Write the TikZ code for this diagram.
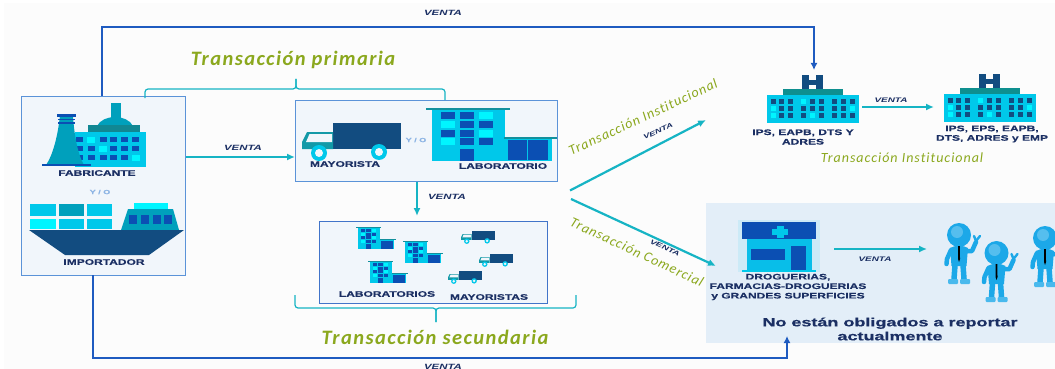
\documentclass[tikz,border=0pt]{standalone}
\usepackage{fontspec}
\setmainfont{Liberation Sans}
\newfontfamily\labfont[FakeStretch=1.5,BoldFeatures={FakeStretch=1.5,FakeBold=0.4}]{Liberation Sans}
\newfontfamily\grnfont[LetterSpace=7,Ligatures=CommonOff]{Carlito}
\usetikzlibrary{arrows.meta,calc}
\definecolor{navy}{HTML}{1B2F63}
\definecolor{teal1}{HTML}{16B4C4}
\definecolor{blu}{HTML}{1F5BC0}
\definecolor{boxb}{HTML}{5B93D8}
\definecolor{boxf}{HTML}{F1F6FB}
\definecolor{grn}{HTML}{8BA81E}
\definecolor{cy}{HTML}{00C8EA}
\definecolor{cyd}{HTML}{00A0BC}
\definecolor{cyl}{HTML}{00F5FF}
\definecolor{dkb}{HTML}{0B4FB3}
\definecolor{navf}{HTML}{124C80}
\definecolor{tealg}{HTML}{0E8F8F}
\definecolor{panel}{HTML}{E3EEF8}
\definecolor{pers}{HTML}{1CA8E8}
\tikzset{
 lab/.style={font=\labfont\bfseries\fontsize{8}{9.5}\selectfont,text=navy,align=center,inner sep=0pt},
 venta/.style={font=\labfont\bfseries\itshape\fontsize{7.6}{9}\selectfont,text=navy,inner sep=0pt},
 grnlab/.style={font=\grnfont\itshape\fontsize{14}{15}\selectfont,text=grn,inner sep=0pt},
 grnbig/.style={font=\grnfont\bfseries\itshape\fontsize{20.5}{23}\selectfont,text=grn,inner sep=0pt},
 yo/.style={font=\labfont\bfseries\fontsize{6}{8}\selectfont,text=boxb!70,inner sep=0pt},
 card/.style={draw=boxb,line width=1.3pt,fill=boxf,inner sep=0pt},
 tealarrow/.style={draw=teal1,line width=2pt,-{Latex[length=8pt,width=7pt]}},
 bluearrow/.style={draw=blu,line width=1.6pt,-{Latex[length=7pt,width=7pt]}},
 brace/.style={draw=teal1,line width=1.2pt,rounded corners=3pt},
 pics/truck/.style={code={
   \fill[navf] (31,0) rectangle (99,26);
   \fill[teal1!85!black] (0,19) -- (5,9) -- (31,9) -- (31,26) -- (0,26) -- cycle;
   \fill[boxf] (7.5,11) -- (30,11) -- (30,19) -- (4,19) -- cycle;
   \fill[cy] (17,30) circle (8); \fill[boxf] (17,30) circle (4);
   \fill[cy] (77,29) circle (8); \fill[boxf] (77,29) circle (4);
 }},
 pics/labo/.style={code={
   \fill[teal1!80!black] (-6,-2) rectangle (78,0);
   \fill[cy] (0,0) rectangle (73,51);
   \fill[cy] (73,29) rectangle (120,51);
   \fill[teal1!80!black] (72,27) rectangle (125,29);
   \fill[dkb] (76,30) rectangle (95,50);
   \fill[dkb] (96,30) rectangle (116,50);
   \foreach \xx/\yy/\cc in {9/2/dkb,28/2/dkb,47/2/cyl,9/11/cyl,28/11/dkb,47/11/dkb,9/20/dkb,28/20/dkb,47/20/cyl,9/28/cyl,28/28/dkb,47/28/dkb}{
     \fill[\cc] (\xx,\yy) rectangle ++(14,7);}
   \fill[dkb] (28,39) rectangle (42,51);
 }},
 pics/hosp/.style={code={
   \fill[navf] (35,0) rectangle (42,15);
   \fill[navf] (49,0) rectangle (56,15);
   \fill[navf] (40,5) rectangle (51,10);
   \fill[tealg] (16,14) rectangle (76,20);
   \fill[cy] (0,20) rectangle (92,48);
   \foreach \y in {24,31,38}{
     \foreach \x in {4,12,21,34,43,52,65,74,83}{
       \fill[navf] (\x,\y) rectangle ++(5,4.5);
     }}
   \fill[cyl] (34,24) rectangle ++(5,4.5);
   \fill[cyl] (4,31) rectangle ++(5,4.5);
   \fill[cyl] (83,31) rectangle ++(5,4.5);
   \fill[cyl] (4,38) rectangle ++(5,4.5);
   \fill[cyl] (43,38) rectangle ++(5,4.5);
 }},
 pics/person/.style={code={
   \fill[pers] (-9,13) .. controls (-4,10) and (4,10) .. (9,13) -- (7.5,31) -- (-7.5,31) -- cycle;
   \draw[pers,line width=4.5pt,line cap=round,line join=round] (-8,15) -- (-12,24) -- (-12.5,29);
   \draw[pers,line width=4.5pt,line cap=round,line join=round] (8,16) -- (13,16) -- (17,7);
   \draw[pers,line width=2.4pt,line cap=round] (17,6) -- (15,1);
   \draw[pers,line width=2.4pt,line cap=round] (17,6) -- (21,1);
   \draw[pers,line width=5.5pt,line cap=round] (-4,30) -- (-5,44);
   \draw[pers,line width=5.5pt,line cap=round] (4,30) -- (5,44);
   \fill[pers!80!white,rounded corners=1pt] (-11,44) rectangle (-1,49);
   \fill[pers!80!white,rounded corners=1pt] (1,44) rectangle (11,49);
   \fill[pers] (0,0) circle (12);
   \fill[pers!75!white] (-2,-3) circle (6);
   \fill[black] (-0.9,11) -- (0.9,11) -- (1,24) -- (0,27) -- (-1,24) -- cycle;
 }},
}
\begin{document}
\begin{tikzpicture}[x=1pt,y=-1pt]
\useasboundingbox (0,0) rectangle (1055,369);
\fill[white] (0,0) rectangle (1055,369);
\fill[black!1] (4,3) rectangle (1055,369);
% panel
\node[fill=panel,minimum width=349pt,minimum height=140pt,inner sep=0pt,anchor=north west] (panel) at (706,203) {};
% cards
\node[card,minimum width=164pt,minimum height=179pt,anchor=north west] (fab) at (21,96) {};
\node[card,minimum width=262pt,minimum height=81pt,anchor=north west] (may) at (295,100) {};
\node[card,draw=blu!85,minimum width=228pt,minimum height=82pt,anchor=north west] (sec) at (319,221) {};

% factory icon
\fill[cyd] (111,103) rectangle (121,120);
\fill[cyd] (97,126) .. controls (103,114) and (127,114) .. (133,126) -- cycle;
\fill[cy] (75,132) rectangle (146,167);
\fill[teal1!75!black] (88,125) rectangle (140,132);
\foreach \y in {137,146,155}{\foreach \x in {76,88,100,110,121,132}{\fill[dkb] (\x,\y) rectangle ++(7,5);}}
\fill[cyl] (87,137) rectangle ++(8,6);
\fill[cyl] (99,146) rectangle ++(8,6);
\fill[cyl] (132,155) rectangle ++(8,6);
\fill[cyd] (60,115) -- (73,115) .. controls (74,135) and (78,155) .. (84,165) -- (46,165) .. controls (53,155) and (58,135) .. (60,115) -- cycle;
\fill[dkb] (42,164) rectangle (91,166);
\fill[dkb] (57,114) rectangle (76,117);
\fill[dkb] (58,118.5) rectangle (75,120);
\fill[dkb] (58,121.5) rectangle (75,123.5);
% ship icon
\fill[cy] (30,204) rectangle (56,216);
\fill[cyd] (59,204) rectangle (84,216);
\fill[cy] (87,204) rectangle (112,216);
\fill[cyl] (30,219) rectangle (56,229);
\fill[cy] (59,219) rectangle (84,229);
\fill[cy] (87,219) rectangle (112,229);
\fill[cyl] (134,203) rectangle (168,209);
\fill[cyd] (128,209) -- (173,209) -- (179,230) -- (121,230) -- cycle;
\foreach \x in {129,141,153,164}{\fill[dkb] (\x,215) rectangle ++(8,9);}
\fill[navf] (29,230) -- (184,230) -- (149,255) -- (65,255) -- cycle;

% mayorista icons
\pic at (302,123) {truck};
\pic at (432,110) {labo};
% secondary icons
\pic[xscale=.3,yscale=.42] at (358,228) {labo};
\pic[xscale=.3,yscale=.42] at (405,242) {labo};
\pic[xscale=.3,yscale=.42] at (370,262) {labo};
\pic[scale=.34] at (461,231) {truck};
\pic[scale=.34] at (479,254) {truck};
\pic[scale=.34] at (448,271) {truck};
% hospitals
\pic at (767,75) {hosp};
\pic at (944,74) {hosp};
\coordinate (h1) at (814,70);
\coordinate (h1l) at (862,107);
\coordinate (h2l) at (934,107);
% drogueria
\fill[cy!10!panel] (738,220) rectangle (820,272);
\fill[dkb] (742,222) rectangle (816,239);
\fill[cy!70!pers] (747,239) rectangle (812,270);
\fill[cy] (742,269.5) rectangle (816,272);
\fill[dkb] (751,249) rectangle (785,260);
\fill[dkb] (791,246) rectangle (806,270);
\fill[cy] (776.5,226) rectangle (783.5,238);
\fill[cy] (772,229) rectangle (788,235);
% people
\pic at (959,235) {person};
\pic at (996.5,253) {person};
\pic at (1045,238) {person};
\coordinate (ppl) at (927,249);
\coordinate (drog) at (834,249);

% text
\node[lab] (tfab) at (97,173) {FABRICANTE};
\node[yo] at (100,192) {Y / O};
\node[lab] (timp) at (104,262) {IMPORTADOR};
\node[lab] at (345,164) {MAYORISTA};
\node[lab] at (503,166) {LABORATORIO};
\node[yo] at (416,140) {Y / O};
\node[lab] at (387,294) {LABORATORIOS};
\node[lab] at (489,297) {MAYORISTAS};
\node[lab] at (803,137) {IPS, EAPB, DTS Y\\ADRES};
\node[lab] at (992,134) {IPS, EPS, EAPB,\\DTS, ADRES y EMP};
\node[lab] at (788,287) {DROGUERIAS,\\FARMACIAS-DROGUERIAS\\y GRANDES SUPERFICIES};
\node[font=\labfont\bfseries\fontsize{12}{14}\selectfont,text=navy,align=center,inner sep=0pt] at (890,329) {No están obligados a reportar\\actualmente};
\node[venta] at (443,13) {VENTA};
\node[venta] at (243,148) {VENTA};
\node[venta] at (447,197) {VENTA};
\node[venta,rotate=25,font=\labfont\bfseries\itshape\fontsize{6.4}{8}\selectfont] at (658,131) {VENTA};
\node[venta,rotate=-25,font=\labfont\bfseries\itshape\fontsize{6.4}{8}\selectfont] at (665,248) {VENTA};
\node[venta,font=\labfont\bfseries\itshape\fontsize{6.6}{8}\selectfont] at (891,100) {VENTA};
\node[venta,font=\labfont\bfseries\itshape\fontsize{6.6}{8}\selectfont] at (875,259) {VENTA};
\node[venta] at (443,367) {VENTA};
\node[grnbig] at (293,60) {Transacción primaria};
\node[grnbig] at (435,337) {Transacción secundaria};
\node[grnlab,rotate=25] at (643,117) {Transacción Institucional};
\node[grnlab,rotate=-25] at (637,252) {Transacción Comercial};
\node[grnlab] at (902,158) {Transacción Institucional};

% connectors
\coordinate (fabtop) at (102,96);
\coordinate (fabbot) at (93,275);
\coordinate (panbot) at (787,336);
\draw[bluearrow] (fabtop) -- (102,27) -- (814,27) -- (h1);
\draw[bluearrow] (fabbot) -- (93,358) -- (787,358) -- (panbot);
\draw[tealarrow] (fab.east |- 0,157) -- (may.west |- 0,157);
\draw[tealarrow,shorten >=5pt] (may.south -| 417,0) -- (sec.north -| 417,0);
\draw[tealarrow] (h1l) -- (h2l);
\draw[tealarrow,line width=1.5pt] (drog) -- (ppl);
\coordinate (fork1) at (570,190.5);
\coordinate (fork2) at (571,199);
\coordinate (tinst) at (706,120);
\coordinate (tcom) at (716,266);
\draw[tealarrow,line width=2.2pt] (fork1) -- (tinst);
\draw[tealarrow,line width=2.2pt] (fork2) -- (tcom);
% braces
\coordinate (b1a) at (145,98);
\coordinate (b1b) at (445,100);
\coordinate (b1t) at (296,79);
\draw[brace] (b1a) -- (145,89) -- (296,89) -- (b1t);
\draw[brace] (b1t) -- (296,89) -- (445,89) -- (b1b);
\coordinate (b2a) at (295,295);
\coordinate (b2b) at (576,295);
\coordinate (b2t) at (436,322);
\draw[brace] (b2a) -- (295,308) -- (436,308) -- (b2t);
\draw[brace] (b2t) -- (436,308) -- (576,308) -- (b2b);
\end{tikzpicture}
\end{document}
